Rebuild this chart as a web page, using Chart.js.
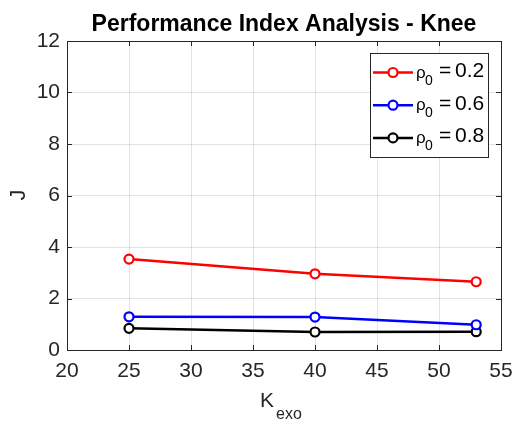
<!DOCTYPE html>
<html><head><meta charset="utf-8">
<script src="https://cdn.jsdelivr.net/npm/chart.js@4/dist/chart.umd.min.js"></script>
<style>html,body{margin:0;padding:0;background:#fff}#wrap{width:516px;height:422px}</style>
</head><body><div id="wrap"><canvas id="c" width="516" height="422"></canvas></div>
<script>
const kexo = [25, 40, 53];
const rho02 = [3.53, 2.96, 2.65];
const rho06 = [1.29, 1.28, 0.98];
const rho08 = [0.84, 0.70, 0.71];
const rhoLabels = ['0.2', '0.6', '0.8'];
const seriesColors = ['#ff0000', '#0000ff', '#000000'];
const xTicks = [20, 25, 30, 35, 40, 45, 50, 55];
const yTicks = [0, 2, 4, 6, 8, 10, 12];
const titleText = 'Performance Index Analysis - Knee';

const FONT = '"Liberation Sans", Arial, Helvetica, sans-serif';
const AX = '#262626';

const mk = (vals, i) => ({
  label: 'ρ0 = ' + rhoLabels[i],
  data: kexo.map((x, j) => ({x: x, y: vals[j]})),
  borderColor: seriesColors[i],
  backgroundColor: seriesColors[i],
  borderWidth: 2.5,
  pointRadius: 4.5,
  pointBorderWidth: 2.2,
  pointBackgroundColor: '#ffffff',
  pointBorderColor: seriesColors[i],
  tension: 0
});

const deco = {
  id: 'deco',
  afterDraw(chart) {
    const ctx = chart.ctx, a = chart.chartArea;
    const xs = chart.scales.x, ys = chart.scales.y;
    ctx.save();
    // box
    ctx.strokeStyle = AX; ctx.lineWidth = 1;
    ctx.strokeRect(Math.round(a.left) + 0.5, Math.round(a.top) + 0.5, Math.round(a.right - a.left), Math.round(a.bottom - a.top));
    // inward ticks
    ctx.beginPath();
    xTicks.forEach(v => {
      const px = Math.round(xs.getPixelForValue(v)) + 0.5;
      ctx.moveTo(px, a.bottom); ctx.lineTo(px, a.bottom - 5);
      ctx.moveTo(px, a.top); ctx.lineTo(px, a.top + 5);
    });
    yTicks.forEach(v => {
      const py = Math.round(ys.getPixelForValue(v)) + 0.5;
      ctx.moveTo(a.left, py); ctx.lineTo(a.left + 5, py);
      ctx.moveTo(a.right, py); ctx.lineTo(a.right - 5, py);
    });
    ctx.stroke();
    // title
    ctx.fillStyle = '#000';
    ctx.font = 'bold 23px ' + FONT;
    ctx.textAlign = 'center'; ctx.textBaseline = 'alphabetic';
    ctx.fillText(titleText, (a.left + a.right) / 2, 31);
    // y label
    ctx.fillStyle = AX;
    ctx.save();
    ctx.translate(25, 195);
    ctx.rotate(-Math.PI / 2);
    ctx.font = '22px ' + FONT;
    ctx.textAlign = 'center';
    ctx.fillText('J', 0, 0);
    ctx.restore();
    // x label K_exo
    ctx.font = '21px ' + FONT;
    ctx.textAlign = 'left';
    const kw = ctx.measureText('K').width;
    const x0 = 260;
    ctx.fillText('K', x0, 407);
    ctx.font = '16px ' + FONT;
    ctx.fillText('exo', x0 + kw + 2, 419);
    // legend
    const lx = 370, ly = 53, lw = 118, lh = 104;
    ctx.fillStyle = '#fff';
    ctx.fillRect(lx, ly, lw, lh);
    ctx.strokeStyle = AX; ctx.lineWidth = 1;
    ctx.strokeRect(lx + 0.5, ly + 0.5, lw, lh);
    chart.data.datasets.forEach((ds, i) => {
      const cy = 72.5 + i * 32.7;
      ctx.strokeStyle = ds.borderColor; ctx.lineWidth = 2.5;
      ctx.beginPath(); ctx.moveTo(373, cy); ctx.lineTo(413, cy); ctx.stroke();
      ctx.lineWidth = 2.2;
      ctx.fillStyle = '#fff';
      ctx.beginPath(); ctx.arc(393, cy, 4.5, 0, Math.PI * 2); ctx.fill(); ctx.stroke();
      ctx.fillStyle = '#000';
      ctx.textAlign = 'left';
      ctx.font = '17px ' + FONT;
      ctx.fillText('ρ', 416, cy + 5);
      ctx.font = '14px ' + FONT;
      ctx.fillText('0', 425, cy + 12);
      ctx.font = '21px ' + FONT;
      ctx.fillText('=', 439, cy + 4.5);
      ctx.fillText(rhoLabels[i], 455, cy + 4.5);
    });
    ctx.restore();
  }
};

new Chart(document.getElementById('c'), {
  type: 'line',
  data: { datasets: [mk(rho02, 0), mk(rho06, 1), mk(rho08, 2)] },
  options: {
    responsive: false,
    animation: false,
    devicePixelRatio: 1,
    layout: { padding: { top: 41, right: 15, left: 0, bottom: 0 } },
    plugins: { legend: { display: false }, title: { display: false }, tooltip: { enabled: false } },
    scales: {
      x: {
        type: 'linear', min: 20, max: 55,
        afterBuildTicks: s => { s.ticks = xTicks.map(v => ({value: v})); },
        afterFit: s => { s.height = 72; s.paddingLeft = 0; s.paddingRight = 0; },
        grid: { color: 'rgba(38,38,38,0.13)', drawTicks: false },
        border: { display: false },
        ticks: { color: AX, font: { family: FONT, size: 21 }, padding: 9, maxRotation: 0 }
      },
      y: {
        type: 'linear', min: 0, max: 12,
        afterBuildTicks: s => { s.ticks = yTicks.map(v => ({value: v})); },
        afterFit: s => { s.width = 67; s.paddingTop = 0; s.paddingBottom = 0; },
        grid: { color: 'rgba(38,38,38,0.13)', drawTicks: false },
        border: { display: false },
        ticks: { color: AX, font: { family: FONT, size: 21 }, padding: 7 }
      }
    }
  },
  plugins: [deco]
});
</script></body></html>
